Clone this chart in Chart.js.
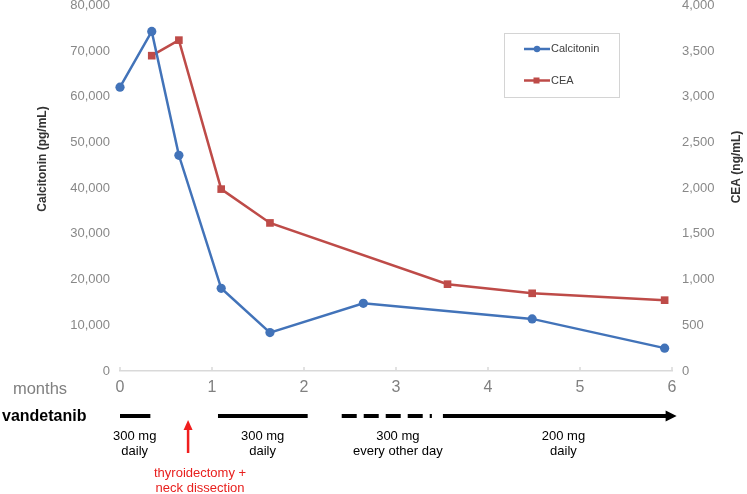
<!DOCTYPE html>
<html lang="en">
<head>
<meta charset="UTF-8">
<title>Calcitonin and CEA under vandetanib</title>
<script src="https://cdn.jsdelivr.net/npm/chart.js"></script>
<style>
    html, body { margin: 0; padding: 0; background: #fff; }
    #wrap { width: 747px; height: 494px; }
</style>
</head>
<body>
<div id="wrap"><canvas id="chart" width="747" height="494"></canvas></div>
<script>
    // serum markers, x = months since start of vandetanib
    const calcMonths = [0, 0.345, 0.64, 1.1, 1.63, 2.645, 4.48, 5.92];
    const calcValues = [62100, 74300, 47200, 18100, 8400, 14800, 11400, 5000];
    const ceaMonths = [0.345, 0.64, 1.1, 1.63, 3.56, 4.48, 5.92];
    const ceaValues = [3450, 3620, 1990, 1620, 950, 850, 775];

    // vandetanib regimen below the axis (months)
    const doseSegments = [
        { from: 0, to: 0.33, dash: false },
        { from: 1.065, to: 2.04, dash: false },
        { from: 2.41, to: 3.39, dash: true },
        { from: 3.51, to: 6.05, dash: false, arrow: true }
    ];
    const doseLabels = [
        { at: 0.16, lines: ['300 mg', 'daily'] },
        { at: 1.55, lines: ['300 mg', 'daily'] },
        { at: 3.02, lines: ['300 mg', 'every other day'] },
        { at: 4.82, lines: ['200 mg', 'daily'] }
    ];
    const surgeryAt = 0.74;
    const surgeryTextAt = 0.87;
    const surgeryText = ['thyroidectomy +', 'neck dissection'];

    const FONT = "'Liberation Sans', Arial, sans-serif";
    const BLUE = '#4273b9';
    const RED = '#be4b48';

    const toPoints = (xs, ys) => xs.map((x, i) => ({ x: x, y: ys[i] }));
    const fmt = v => Number(v).toLocaleString('en-US');

    // extra drawing: axis titles, legend, tick marks and the regimen strip
    const annotations = {
        id: 'annotations',
        afterDraw(chart) {
            const ctx = chart.ctx;
            const xs = chart.scales.x;
            const area = chart.chartArea;
            ctx.save();

            // small upward tick marks on the x axis
            ctx.strokeStyle = '#d9d9d9';
            ctx.lineWidth = 1.5;
            xs.ticks.forEach(t => {
                const px = xs.getPixelForValue(t.value);
                ctx.beginPath();
                ctx.moveTo(px, area.bottom);
                ctx.lineTo(px, area.bottom - 4);
                ctx.stroke();
            });

            // axis titles
            ctx.fillStyle = '#333';
            ctx.font = 'bold 12px ' + FONT;
            ctx.textAlign = 'center';
            ctx.textBaseline = 'middle';
            ctx.save();
            ctx.translate(43, 159);
            ctx.rotate(-Math.PI / 2);
            ctx.fillText('Calcitonin (pg/mL)', 0, 0);
            ctx.restore();
            ctx.save();
            ctx.translate(737, 167);
            ctx.rotate(-Math.PI / 2);
            ctx.fillText('CEA (ng/mL)', 0, 0);
            ctx.restore();

            // legend box
            ctx.strokeStyle = '#d4d4d4';
            ctx.lineWidth = 1;
            ctx.strokeRect(504.5, 33.5, 115, 64);
            chart.data.datasets.forEach((ds, i) => {
                const ly = 49 + i * 31.5;
                ctx.strokeStyle = ds.borderColor;
                ctx.lineWidth = 2.5;
                ctx.beginPath();
                ctx.moveTo(524, ly);
                ctx.lineTo(550, ly);
                ctx.stroke();
                ctx.fillStyle = ds.borderColor;
                if (ds.pointStyle === 'rect') {
                    ctx.fillRect(533.5, ly - 3, 6, 6);
                } else {
                    ctx.beginPath();
                    ctx.arc(537, ly, 3.2, 0, Math.PI * 2);
                    ctx.fill();
                }
                ctx.fillStyle = '#404040';
                ctx.font = '11px ' + FONT;
                ctx.textAlign = 'left';
                ctx.fillText(ds.label, 551, ly);
            });

            // row labels
            ctx.fillStyle = '#808080';
            ctx.font = '16.5px ' + FONT;
            ctx.textAlign = 'center';
            ctx.fillText('months', 40, 389);
            ctx.fillStyle = '#000';
            ctx.font = 'bold 16px ' + FONT;
            ctx.textAlign = 'left';
            ctx.fillText('vandetanib', 2, 417);

            // regimen bars
            const barY = 416;
            ctx.strokeStyle = '#000';
            ctx.fillStyle = '#000';
            ctx.lineWidth = 4;
            doseSegments.forEach(s => {
                const x0 = xs.getPixelForValue(s.from);
                let x1 = xs.getPixelForValue(s.to);
                if (s.arrow) x1 -= 9;
                ctx.setLineDash(s.dash ? [15, 7] : []);
                ctx.beginPath();
                ctx.moveTo(x0, barY);
                ctx.lineTo(x1, barY);
                ctx.stroke();
                if (s.arrow) {
                    const tip = xs.getPixelForValue(s.to);
                    ctx.beginPath();
                    ctx.moveTo(tip, barY);
                    ctx.lineTo(tip - 11, barY - 5.5);
                    ctx.lineTo(tip - 11, barY + 5.5);
                    ctx.closePath();
                    ctx.fill();
                }
            });
            ctx.setLineDash([]);

            ctx.font = '13px ' + FONT;
            ctx.textAlign = 'center';
            doseLabels.forEach(d => {
                const px = xs.getPixelForValue(d.at);
                d.lines.forEach((ln, i) => ctx.fillText(ln, px, 436 + i * 15.5));
            });

            // surgery arrow
            const sx = xs.getPixelForValue(surgeryAt);
            ctx.strokeStyle = '#f01e1e';
            ctx.fillStyle = '#f01e1e';
            ctx.lineWidth = 2.5;
            ctx.beginPath();
            ctx.moveTo(sx, 453);
            ctx.lineTo(sx, 428);
            ctx.stroke();
            ctx.beginPath();
            ctx.moveTo(sx, 420);
            ctx.lineTo(sx - 4.5, 430);
            ctx.lineTo(sx + 4.5, 430);
            ctx.closePath();
            ctx.fill();
            ctx.fillStyle = '#e8201e';
            const tx = xs.getPixelForValue(surgeryTextAt);
            surgeryText.forEach((ln, i) => ctx.fillText(ln, tx, 473 + i * 15.5));

            ctx.restore();
        }
    };

    new Chart(document.getElementById('chart'), {
        type: 'line',
        data: {
            datasets: [
                {
                    label: 'Calcitonin',
                    data: toPoints(calcMonths, calcValues),
                    yAxisID: 'y',
                    borderColor: BLUE,
                    backgroundColor: BLUE,
                    borderWidth: 2.5,
                    pointStyle: 'circle',
                    pointRadius: 4.6,
                    pointBorderWidth: 0,
                    pointBackgroundColor: BLUE,
                    tension: 0,
                    clip: false
                },
                {
                    label: 'CEA',
                    data: toPoints(ceaMonths, ceaValues),
                    yAxisID: 'y2',
                    borderColor: RED,
                    backgroundColor: RED,
                    borderWidth: 2.5,
                    pointStyle: 'rect',
                    pointRadius: 5.4,
                    pointBorderWidth: 0,
                    pointBackgroundColor: RED,
                    tension: 0,
                    clip: false
                }
            ]
        },
        options: {
            responsive: false,
            animation: false,
            layout: { padding: { top: 5, left: 0, right: 0, bottom: 0 } },
            plugins: {
                legend: { display: false },
                tooltip: { enabled: false }
            },
            scales: {
                x: {
                    type: 'linear',
                    min: 0,
                    max: 6,
                    grid: { display: false, drawTicks: false },
                    border: { display: true, color: '#d9d9d9', width: 1.5 },
                    ticks: {
                        stepSize: 1,
                        padding: 7,
                        color: '#808080',
                        font: { family: FONT, size: 16 }
                    },
                    afterFit(scale) {
                        scale.height = 123;
                        scale.paddingLeft = 0;
                        scale.paddingRight = 0;
                    }
                },
                y: {
                    position: 'left',
                    min: 0,
                    max: 80000,
                    grid: { display: false, drawTicks: false },
                    border: { display: false },
                    ticks: {
                        stepSize: 10000,
                        padding: 10,
                        color: '#888',
                        font: { family: FONT, size: 13 },
                        callback: fmt
                    },
                    afterFit(scale) {
                        scale.width = 120;
                        scale.paddingTop = 0;
                        scale.paddingBottom = 0;
                    }
                },
                y2: {
                    position: 'right',
                    min: 0,
                    max: 4000,
                    grid: { display: false, drawTicks: false },
                    border: { display: false },
                    ticks: {
                        stepSize: 500,
                        padding: 10,
                        color: '#888',
                        font: { family: FONT, size: 13 },
                        callback: fmt
                    },
                    afterFit(scale) {
                        scale.width = 75;
                        scale.paddingTop = 0;
                        scale.paddingBottom = 0;
                    }
                }
            }
        },
        plugins: [annotations]
    });
</script>
</body>
</html>
